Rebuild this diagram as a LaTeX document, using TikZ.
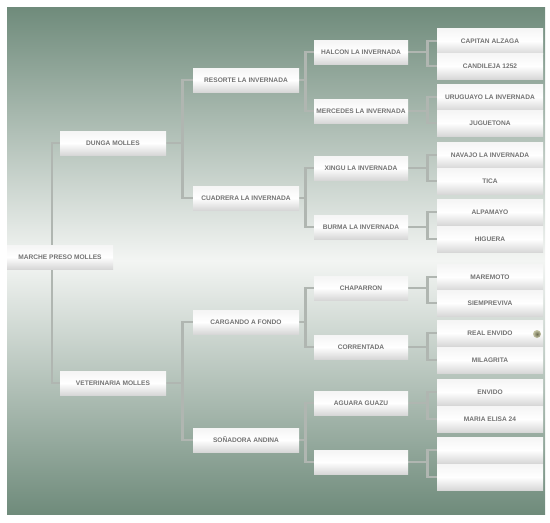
\documentclass[tikz,border=0pt]{standalone}
\usepackage{fontspec}
\setmainfont{Liberation Sans}
\usetikzlibrary{positioning}
\definecolor{bgdark}{HTML}{6F8B7B}
\definecolor{bglight}{HTML}{F3F5F3}
\definecolor{linecol}{HTML}{B0B6B1}
\definecolor{txtcol}{HTML}{727272}
\definecolor{iconin}{HTML}{6E6E52}
\definecolor{iconout}{HTML}{C8C8A8}
\pgfdeclarelayer{bg}
\pgfdeclarelayer{lines}
\pgfsetlayers{bg,lines,main}
\tikzset{
  horse/.style={rectangle, inner sep=0pt, minimum height=24pt, minimum width=106pt,
    top color=#1, bottom color=#1!75!gray, middle color=white,
    font=\fontsize{6.6}{7}\selectfont\bfseries, text=txtcol},
  horse/.default={white!92!gray},
  sire/.style={horse, minimum width=94pt},
  leaf/.style={horse, minimum height=26pt},
  conn/.style={draw=linecol, line width=2.6pt},
}
\begin{document}
\begin{tikzpicture}[x=1pt,y=-1pt]
\useasboundingbox (0,0) rectangle (550,523);
\begin{pgfonlayer}{bg}
\shade[top color=bgdark, bottom color=bgdark, middle color=bglight] (7,7) rectangle (545,514);
\end{pgfonlayer}
% level 0
\node[horse] (m0) at (60,257) {MARCHE PRESO MOLLES};
% level 1
\node[horse] (d1) at (113,143) {DUNGA MOLLES};
\node[horse] (v1) at (113,383) {VETERINARIA MOLLES};
% level 2
\node[horse] (r2) at (246,80) {RESORTE LA INVERNADA};
\node[horse] (c2) at (246,198) {CUADRERA LA INVERNADA};
\node[horse] (g2) at (246,322) {CARGANDO A FONDO};
\node[horse] (s2) at (246,440) {SOÑADORA ANDINA};
% level 3
\node[sire] (h3) at (361,52) {HALCON LA INVERNADA};
\node[sire] (me3) at (361,111) {MERCEDES LA INVERNADA};
\node[sire] (x3) at (361,168) {XINGU LA INVERNADA};
\node[sire] (b3) at (361,227) {BURMA LA INVERNADA};
\node[sire] (ch3) at (361,288) {CHAPARRON};
\node[sire] (co3) at (361,347) {CORRENTADA};
\node[sire] (a3) at (361,403) {AGUARA GUAZU};
\node[sire] (e3) at (361,462) {};
% level 4
\node[leaf] (l1) at (490,41) {CAPITAN ALZAGA};
\node[leaf] (l2) at (490,66) {CANDILEJA 1252};
\node[leaf] (l3) at (490,97) {URUGUAYO LA INVERNADA};
\node[leaf] (l4) at (490,123) {JUGUETONA};
\node[leaf] (l5) at (490,155) {NAVAJO LA INVERNADA};
\node[leaf] (l6) at (490,181) {TICA};
\node[leaf] (l7) at (490,212) {ALPAMAYO};
\node[leaf] (l8) at (490,239) {HIGUERA};
\node[leaf] (l9) at (490,277) {MAREMOTO};
\node[leaf] (l10) at (490,303) {SIEMPREVIVA};
\node[leaf] (l11) at (490,333) {REAL ENVIDO};
\node[leaf] (l12) at (490,360) {MILAGRITA};
\node[leaf] (l13) at (490,392) {ENVIDO};
\node[leaf] (l14) at (490,419) {MARIA ELISA 24};
\node[leaf] (l15) at (490,450) {};
\node[leaf] (l16) at (490,477) {};
\node[circle, inner sep=0pt, minimum size=8pt, shading=radial, inner color=iconin, outer color=iconout] (icon) at (537,334) {};
\begin{pgfonlayer}{lines}
% level 0 -> 1
\draw[conn] ([xshift=-8pt]m0.north) |- (d1.west);
\draw[conn] ([xshift=-8pt]m0.south) |- (v1.west);
% level 1 -> 2
\foreach \p/\a/\b in {d1/r2/c2, v1/g2/s2}{
  \draw[conn] (\p.east) -- ++(16,0) |- (\a.west);
  \draw[conn] (\p.east) -- ++(16,0) |- (\b.west);
}
% level 2 -> 3
\foreach \p/\a/\b in {r2/h3/me3, c2/x3/b3, g2/ch3/co3, s2/a3/e3}{
  \draw[conn] (\p.east) -- ++(6,0) |- (\a.west);
  \draw[conn] (\p.east) -- ++(6,0) |- (\b.west);
}
% level 3 -> 4
\foreach \p/\a/\b in {h3/l1/l2, me3/l3/l4, x3/l5/l6, b3/l7/l8, ch3/l9/l10, co3/l11/l12, a3/l13/l14, e3/l15/l16}{
  \draw[conn] (\p.east) -- ++(19,0) |- (\a.west);
  \draw[conn] (\p.east) -- ++(19,0) |- (\b.west);
}
\end{pgfonlayer}
\end{tikzpicture}
\end{document}
